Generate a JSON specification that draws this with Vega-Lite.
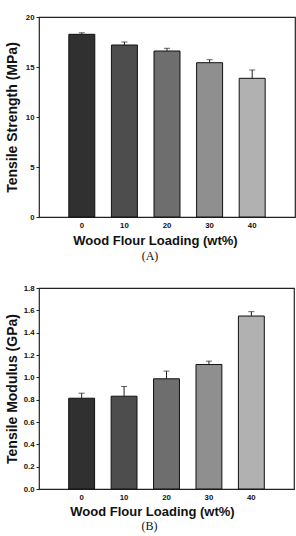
{
  "$schema": "https://vega.github.io/schema/vega-lite/v6.json",
  "padding": {"left": 4, "top": 12, "right": 2, "bottom": 1},
  "spacing": 20,
  "config": {
    "view": {"stroke": "#222", "strokeWidth": 1.2},
    "font": "Liberation Sans",
    "axis": {"labelFont": "Liberation Sans", "labelFontWeight": "bold", "labelFontSize": 7.8, "labelColor": "#111", "labelOverlap": false, "titleFont": "Liberation Sans", "titleFontWeight": "bold", "titleColor": "#111", "grid": false, "domain": false},
    "axisX": {"ticks": false, "labelPadding": 4, "labelAngle": 0, "titleFontSize": 13, "titlePadding": 6},
    "axisY": {"tickSize": 3, "tickColor": "#222", "labelPadding": 2, "titleFontSize": 14, "minExtent": 14, "maxExtent": 14, "titlePadding": 6},
    "title": {"font": "Liberation Serif", "fontSize": 12, "fontWeight": "normal", "orient": "bottom", "color": "#111", "frame": "group", "anchor": "middle"}
  },
  "datasets": {
    "strength": [
      {"loading": "0", "mean": 18.27, "upper": 18.42},
      {"loading": "10", "mean": 17.2, "upper": 17.5},
      {"loading": "20", "mean": 16.6, "upper": 16.87},
      {"loading": "30", "mean": 15.43, "upper": 15.73},
      {"loading": "40", "mean": 13.87, "upper": 14.7}
    ],
    "modulus": [
      {"loading": "0", "mean": 0.813, "upper": 0.858},
      {"loading": "10", "mean": 0.831, "upper": 0.918},
      {"loading": "20", "mean": 0.987, "upper": 1.056},
      {"loading": "30", "mean": 1.115, "upper": 1.145},
      {"loading": "40", "mean": 1.549, "upper": 1.588}
    ]
  },
  "vconcat": [
    {
      "title": {"text": "(A)", "dx": -17, "offset": 3},
      "width": 256,
      "height": 200,
      "data": {"name": "strength"},
      "encoding": {
        "x": {"field": "loading", "type": "ordinal", "sort": null, "scale": {"paddingInner": 0.39, "paddingOuter": 0.7}, "axis": {"title": "Wood Flour Loading (wt%)", "titleX": 116}}
      },
      "layer": [
        {
          "mark": {"type": "bar", "stroke": "#111", "strokeWidth": 1},
          "encoding": {
            "y": {"field": "mean", "type": "quantitative", "title": "Tensile Strength (MPa)", "scale": {"domain": [0, 20]}, "axis": {"values": [0, 5, 10, 15, 20]}},
            "color": {"field": "loading", "type": "nominal", "sort": null, "scale": {"domain": ["0", "10", "20", "30", "40"], "range": ["#303030", "#4d4d4d", "#6e6e6e", "#8f8f8f", "#b1b1b1"]}, "legend": null}
          }
        },
        {
          "mark": {"type": "rule", "color": "#222", "strokeWidth": 1},
          "encoding": {"y": {"field": "mean", "type": "quantitative", "title": "Tensile Strength (MPa)", "scale": {"domain": [0, 20]}, "axis": {"values": [0, 5, 10, 15, 20]}}, "y2": {"field": "upper"}}
        },
        {
          "mark": {"type": "tick", "color": "#222", "size": 6, "thickness": 1},
          "encoding": {"y": {"field": "upper", "type": "quantitative", "title": "Tensile Strength (MPa)", "scale": {"domain": [0, 20]}, "axis": {"values": [0, 5, 10, 15, 20]}}}
        }
      ]
    },
    {
      "title": {"text": "(B)", "dx": -17, "offset": 2},
      "width": 255,
      "height": 201,
      "data": {"name": "modulus"},
      "encoding": {
        "x": {"field": "loading", "type": "ordinal", "sort": null, "scale": {"paddingInner": 0.39, "paddingOuter": 0.7}, "axis": {"title": "Wood Flour Loading (wt%)", "titleX": 113, "titlePadding": 5}}
      },
      "layer": [
        {
          "mark": {"type": "bar", "stroke": "#111", "strokeWidth": 1},
          "encoding": {
            "y": {"field": "mean", "type": "quantitative", "title": "Tensile Modulus (GPa)", "scale": {"domain": [0, 1.8]}, "axis": {"values": [0, 0.2, 0.4, 0.6, 0.8, 1.0, 1.2, 1.4, 1.6, 1.8], "format": ".1f", "labelOverlap": false}},
            "color": {"field": "loading", "type": "nominal", "sort": null, "scale": {"domain": ["0", "10", "20", "30", "40"], "range": ["#303030", "#4d4d4d", "#6e6e6e", "#8f8f8f", "#b1b1b1"]}, "legend": null}
          }
        },
        {
          "mark": {"type": "rule", "color": "#222", "strokeWidth": 1},
          "encoding": {"y": {"field": "mean", "type": "quantitative", "title": "Tensile Modulus (GPa)", "scale": {"domain": [0, 1.8]}, "axis": {"values": [0, 0.2, 0.4, 0.6, 0.8, 1.0, 1.2, 1.4, 1.6, 1.8], "format": ".1f", "labelOverlap": false}}, "y2": {"field": "upper"}}
        },
        {
          "mark": {"type": "tick", "color": "#222", "size": 6, "thickness": 1},
          "encoding": {"y": {"field": "upper", "type": "quantitative", "title": "Tensile Modulus (GPa)", "scale": {"domain": [0, 1.8]}, "axis": {"values": [0, 0.2, 0.4, 0.6, 0.8, 1.0, 1.2, 1.4, 1.6, 1.8], "format": ".1f", "labelOverlap": false}}}
        }
      ]
    }
  ]
}
